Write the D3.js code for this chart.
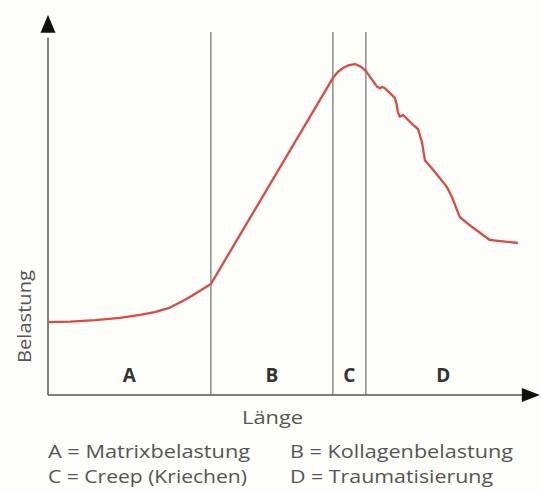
<!DOCTYPE html>
<html>
<head>
<meta charset="utf-8">
<script src="https://cdn.jsdelivr.net/npm/d3@7"></script>
<style>
  body { margin: 0; background: #fdfdfa; }
  svg { display: block; }
</style>
</head>
<body>
<script>
// Laenge (0-100) and Belastung (0-100)
var laenge = [0, 4.5, 9.6, 14.6, 18.7, 21.7, 24.8, 27.8, 30.5, 33.1,
  57.9, 58.9, 60.0, 61.2, 62.4, 63.6, 64.6,
  66.9, 67.5, 67.9, 68.5, 70.5, 70.9, 71.1, 71.5, 72.2, 74.2,
  75.2, 76.0, 76.6, 78.3, 81.1, 82.1, 83.7, 86.2, 89.8, 91.9, 95.5];
var belastung = [19.2, 19.3, 19.7, 20.3, 21.1, 21.8, 23.0, 25.0, 27.1, 29.2,
  83.4, 85.0, 86.1, 86.8, 87.1, 86.4, 85.3,
  81.1, 80.7, 81.1, 80.7, 78.2, 76.3, 74.5, 73.2, 73.7, 71.1,
  70.0, 66.6, 61.8, 59.2, 54.7, 52.1, 46.8, 44.2, 40.8, 40.5, 40.0];

var phaseBounds = [33.1, 57.9, 64.6];
var phaseNames = ["A", "B", "C", "D"];
var legendLines = [
  ["A = Matrixbelastung", "B = Kollagenbelastung"],
  ["C = Creep (Kriechen)", "D = Traumatisierung"]
];
var legendWidths = [[202, 223], [199, 203]];

var w = 541, h = 491;
var x = d3.scaleLinear().domain([0, 100]).range([48, 540]);
var y = d3.scaleLinear().domain([0, 100]).range([395, 15]);

var svg = d3.select("body").append("svg")
  .attr("width", w)
  .attr("height", h)
  .style("font-family", "'Open Sans', sans-serif");

// phase separators
svg.selectAll("line.sep")
  .data(phaseBounds)
  .enter()
  .append("line")
  .attr("class", "sep")
  .attr("x1", function(d) { return x(d); })
  .attr("x2", function(d) { return x(d); })
  .attr("y1", y(0))
  .attr("y2", y(95.5))
  .attr("stroke", "#8c8c8c")
  .attr("stroke-width", 1.5);

// phase letters, centred between the bounds
var edges = [0].concat(phaseBounds).concat([96.1]);
svg.selectAll("text.phase")
  .data(phaseNames)
  .enter()
  .append("text")
  .attr("class", "phase")
  .attr("x", function(d, i) { return (x(edges[i]) + x(edges[i + 1])) / 2; })
  .attr("y", 382)
  .attr("text-anchor", "middle")
  .attr("font-size", 19)
  .attr("font-weight", "bold")
  .attr("fill", "#333")
  .text(function(d) { return d; });

// axes with arrow heads
svg.append("line")
  .attr("x1", x(0)).attr("x2", x(0))
  .attr("y1", y(0)).attr("y2", y(94))
  .attr("stroke", "#555").attr("stroke-width", 1.5);
svg.append("path")
  .attr("d", "M" + x(0) + "," + y(100) + "L" + (x(0) - 7.5) + "," + y(95.3) + "L" + (x(0) + 7.5) + "," + y(95.3) + "Z")
  .attr("fill", "#111");
svg.append("line")
  .attr("x1", x(0)).attr("x2", x(96.5))
  .attr("y1", y(0)).attr("y2", y(0))
  .attr("stroke", "#555").attr("stroke-width", 1.5);
svg.append("path")
  .attr("d", "M" + x(100) + "," + y(0) + "L" + x(96.3) + "," + (y(0) - 7) + "L" + x(96.3) + "," + (y(0) + 7) + "Z")
  .attr("fill", "#111");

// curve
var line = d3.line()
  .x(function(d, i) { return x(laenge[i]); })
  .y(function(d) { return y(d); });

svg.append("path")
  .datum(belastung)
  .attr("d", line)
  .attr("fill", "none")
  .attr("stroke", "#dd4a42")
  .attr("stroke-width", 2.3)
  .attr("stroke-linejoin", "round");

// axis titles
svg.append("text")
  .attr("x", 242)
  .attr("y", 424)
  .attr("font-size", 19)
  .attr("fill", "#555")
  .attr("textLength", 61)
  .attr("lengthAdjust", "spacingAndGlyphs")
  .text("Länge");

svg.append("text")
  .attr("transform", "translate(31,363) rotate(-90)")
  .attr("font-size", 19)
  .attr("fill", "#555")
  .attr("textLength", 93)
  .attr("lengthAdjust", "spacingAndGlyphs")
  .text("Belastung");

// legend
var rowY = [458, 483];
var colX = [48, 290];
legendLines.forEach(function(row, r) {
  row.forEach(function(t, c) {
    svg.append("text")
      .attr("x", colX[c])
      .attr("y", rowY[r])
      .attr("font-size", 19)
      .attr("fill", "#555")
      .attr("textLength", legendWidths[r][c])
      .attr("lengthAdjust", "spacingAndGlyphs")
      .text(t);
  });
});
</script>
</body>
</html>
